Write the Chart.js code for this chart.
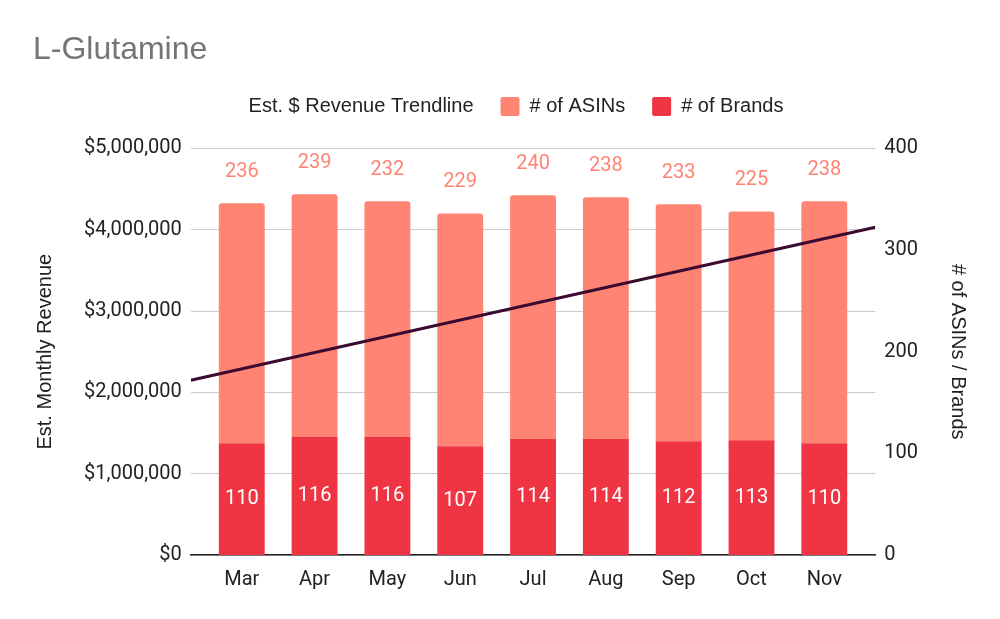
<!DOCTYPE html>
<html>
<head>
<meta charset="utf-8">
<script src="https://cdn.jsdelivr.net/npm/chart.js@4.4.0/dist/chart.umd.min.js"></script>
<style>
  html, body { margin: 0; padding: 0; background: #fff; }
  #wrap { width: 1000px; height: 619px; }
</style>
</head>
<body>
<div id="wrap"><canvas id="chart"></canvas></div>
<script>
const months = ['Mar', 'Apr', 'May', 'Jun', 'Jul', 'Aug', 'Sep', 'Oct', 'Nov'];
const asins = [236, 239, 232, 229, 240, 238, 233, 225, 238];
const brands = [110, 116, 116, 107, 114, 114, 112, 113, 110];
// trendline value at the left and right edge of the plot
const trendRevenue = [2150000, 4030000];
const revenueTicks = [0, 1000000, 2000000, 3000000, 4000000, 5000000];

// month axis runs a bit past the first and last bar
const X_MIN = -0.7;
const X_MAX = months.length - 1 + 0.7;

const ASIN_COLOR = '#ff8474';
const BRAND_COLOR = '#ef3543';
const TREND_COLOR = '#3b0a30';
const legendOrder = ['Est. $ Revenue Trendline', '# of ASINs', '# of Brands'];

const toPoints = values => values.map((v, i) => ({ x: i, y: v }));

const barLabels = {
    id: 'barLabels',
    afterDatasetsDraw(chart) {
        const ctx = chart.ctx;
        ctx.save();
        ctx.font = '20px Roboto';
        ctx.textAlign = 'center';
        ctx.textBaseline = 'middle';
        chart.data.datasets.forEach((ds, i) => {
            if (ds.type === 'line') return;
            const meta = chart.getDatasetMeta(i);
            meta.data.forEach((bar, j) => {
                const value = ds.data[j].y;
                if (ds.label === '# of ASINs') {
                    ctx.fillStyle = ASIN_COLOR;
                    ctx.fillText(value, bar.x, bar.y - 31);
                } else {
                    ctx.fillStyle = '#ffffff';
                    ctx.fillText(value, bar.x, (bar.y + bar.base) / 2);
                }
            });
        });
        ctx.restore();
    }
};

// extra space between legend and plot
const legendGap = {
    id: 'legendGap',
    beforeInit(chart) {
        const fit = chart.legend.fit;
        chart.legend.fit = function () {
            fit.call(this);
            this.height += 22;
        };
    }
};

new Chart(document.getElementById('chart'), {
    type: 'bar',
    data: {
        datasets: [{
            type: 'line',
            label: 'Est. $ Revenue Trendline',
            data: [{ x: X_MIN, y: trendRevenue[0] }, { x: X_MAX, y: trendRevenue[1] }],
            yAxisID: 'y',
            borderColor: TREND_COLOR,
            backgroundColor: 'rgba(0,0,0,0)',
            borderWidth: 3,
            pointRadius: 0,
            order: 0
        }, {
            label: '# of Brands',
            data: toPoints(brands),
            yAxisID: 'y1',
            stack: 'counts',
            grouped: false,
            backgroundColor: BRAND_COLOR,
            borderRadius: 3,
            barPercentage: 0.63,
            categoryPercentage: 1,
            order: 1
        }, {
            label: '# of ASINs',
            data: toPoints(asins),
            yAxisID: 'y1',
            stack: 'counts',
            grouped: false,
            backgroundColor: ASIN_COLOR,
            borderRadius: 3,
            barPercentage: 0.63,
            categoryPercentage: 1,
            order: 2
        }]
    },
    options: {
        responsive: true,
        maintainAspectRatio: false,
        animation: false,
        layout: {
            padding: { left: 33, right: 30, top: 0, bottom: 14 }
        },
        plugins: {
            title: {
                display: true,
                text: 'L-Glutamine',
                align: 'start',
                color: '#757575',
                font: { family: 'Liberation Sans, Arial', size: 32, weight: 'normal' },
                padding: { top: 31, bottom: 0 }
            },
            legend: {
                display: true,
                position: 'top',
                labels: {
                    color: '#222',
                    font: { family: 'Liberation Sans, Arial', size: 20 },
                    boxWidth: 19,
                    boxHeight: 19,
                    padding: 27,
                    sort: (a, b) => legendOrder.indexOf(a.text) - legendOrder.indexOf(b.text),
                    generateLabels(chart) {
                        const items = Chart.defaults.plugins.legend.labels.generateLabels(chart);
                        items.forEach(it => {
                            if (it.text === 'Est. $ Revenue Trendline') {
                                it.fillStyle = 'rgba(0,0,0,0)';
                                it.strokeStyle = 'rgba(0,0,0,0)';
                                it.lineWidth = 0;
                            } else {
                                it.lineWidth = 0;
                                it.borderRadius = 2;
                            }
                        });
                        return items;
                    }
                }
            },
            tooltip: { enabled: false }
        },
        scales: {
            x: {
                type: 'linear',
                stacked: true,
                offset: false,
                min: X_MIN,
                max: X_MAX,
                afterBuildTicks(axis) {
                    axis.ticks = months.map((m, i) => ({ value: i }));
                },
                grid: { display: false, drawTicks: false, offset: false },
                border: { display: true, color: '#222', width: 1.5 },
                ticks: {
                    color: '#222',
                    padding: 13,
                    autoSkip: false,
                    maxRotation: 0,
                    font: { family: 'Roboto', size: 20 },
                    callback: v => months[v]
                }
            },
            y: {
                position: 'left',
                min: 0,
                max: 5000000,
                afterBuildTicks(axis) {
                    axis.ticks = revenueTicks.map(v => ({ value: v }));
                },
                grid: { color: '#cccccc', drawTicks: false },
                border: { display: false },
                ticks: {
                    color: '#222',
                    padding: 9,
                    font: { family: 'Roboto', size: 20 },
                    callback: v => '$' + v.toLocaleString('en-US')
                },
                title: {
                    display: true,
                    text: 'Est. Monthly Revenue',
                    color: '#222',
                    font: { family: 'Liberation Sans, Arial', size: 20 },
                    padding: { top: 0, bottom: 18 }
                }
            },
            y1: {
                position: 'right',
                stacked: true,
                min: 0,
                max: 400,
                grid: { display: false, drawTicks: false },
                border: { display: false },
                ticks: {
                    stepSize: 100,
                    color: '#222',
                    padding: 9,
                    font: { family: 'Roboto', size: 20 }
                },
                title: {
                    display: true,
                    text: '# of ASINs / Brands',
                    color: '#222',
                    font: { family: 'Liberation Sans, Arial', size: 20 },
                    padding: { top: 0, bottom: 19 }
                }
            }
        }
    },
    plugins: [barLabels, legendGap]
});
</script>
</body>
</html>
